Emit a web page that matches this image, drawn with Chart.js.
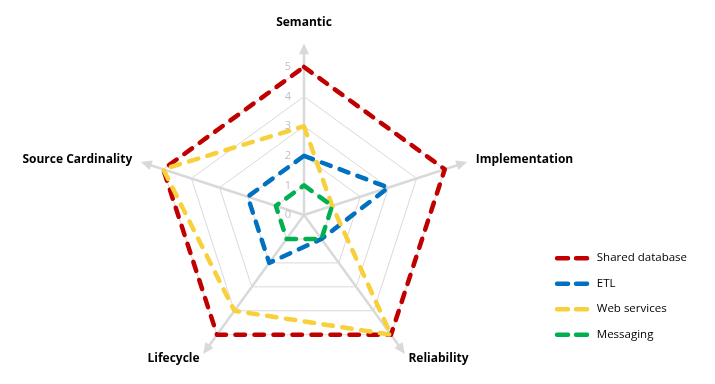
<!DOCTYPE html>
<html>
<head>
<meta charset="utf-8">
<script src="https://cdn.jsdelivr.net/npm/chart.js@4"></script>
<style>
  html, body { margin: 0; padding: 0; background: #fff; }
  #wrap { width: 715px; height: 384px; }
</style>
</head>
<body>
<div id="wrap"><canvas id="radar" width="715" height="384"></canvas></div>
<script>
// Chart data
const axes = ['Semantic', 'Implementation', 'Reliability', 'Lifecycle', 'Source Cardinality'];
const seriesNames = ['Shared database', 'ETL', 'Web services', 'Messaging'];
const sharedDatabase = [5, 5, 5, 5, 5];
const etl = [2, 3, 1, 2, 2];
const webServices = [3, 1, 5, 4, 5];
const messaging = [1, 1, 1, 1, 1];
const tickValues = [0, 1, 2, 3, 4, 5];

const seriesColors = ['#c00000', '#0070c0', '#f7d03c', '#00b050'];
const FONT = '"Open Sans", "Noto Sans", sans-serif';

// Axis arrows, tick numbers and axis titles
const axisDecor = {
    id: 'axisDecor',
    beforeDatasetsDraw(chart) {
        const scale = chart.scales.r;
        const ctx = chart.ctx;
        const outer = scale.getDistanceFromCenterForValue(scale.max);

        ctx.save();
        ctx.strokeStyle = '#d9d9d9';
        ctx.fillStyle = '#d9d9d9';
        ctx.lineWidth = 2.5;
        axes.forEach((_, i) => {
            const a = scale.getIndexAngle(i) - Math.PI / 2;
            const end = scale.getPointPosition(i, outer * 1.1);
            const tip = scale.getPointPosition(i, outer * 1.16);
            ctx.beginPath();
            ctx.moveTo(scale.xCenter, scale.yCenter);
            ctx.lineTo(end.x, end.y);
            ctx.stroke();
            const bx = tip.x - Math.cos(a) * 11;
            const by = tip.y - Math.sin(a) * 11;
            ctx.beginPath();
            ctx.moveTo(tip.x, tip.y);
            ctx.lineTo(bx - Math.sin(a) * 5, by + Math.cos(a) * 5);
            ctx.lineTo(bx + Math.sin(a) * 5, by - Math.cos(a) * 5);
            ctx.closePath();
            ctx.fill();
        });

        ctx.font = '11px ' + FONT;
        ctx.fillStyle = '#bfbfbf';
        ctx.textAlign = 'center';
        ctx.textBaseline = 'middle';
        tickValues.forEach(v => {
            const d = scale.getDistanceFromCenterForValue(v);
            ctx.fillText(String(v), scale.xCenter - 16, scale.yCenter - d);
        });

        // axis titles
        const place = [
            { k: 1.30, align: 'center' },
            { k: 1.22, align: 'left' },
            { k: 1.20, align: 'left' },
            { k: 1.20, align: 'right' },
            { k: 1.22, align: 'right' }
        ];
        ctx.font = 'bold 12px ' + FONT;
        ctx.fillStyle = '#000';
        axes.forEach((label, i) => {
            const p = scale.getPointPosition(i, outer * place[i].k);
            ctx.textAlign = place[i].align;
            ctx.fillText(label, p.x, p.y);
        });
        ctx.restore();
    }
};

function makeDataset(label, data, color, order) {
    return {
        label: label,
        data: data,
        borderColor: color,
        backgroundColor: color,
        borderWidth: 4.5,
        borderDash: [9.5, 9.5],
        borderCapStyle: 'round',
        borderJoinStyle: 'round',
        fill: false,
        tension: 0,
        pointRadius: 0,
        pointHoverRadius: 0,
        order: order
    };
}

const ctx = document.getElementById('radar').getContext('2d');
new Chart(ctx, {
    type: 'radar',
    data: {
        labels: axes,
        datasets: [
            makeDataset(seriesNames[0], sharedDatabase, seriesColors[0], 4),
            makeDataset(seriesNames[1], etl, seriesColors[1], 3),
            makeDataset(seriesNames[2], webServices, seriesColors[2], 2),
            makeDataset(seriesNames[3], messaging, seriesColors[3], 1)
        ]
    },
    options: {
        responsive: false,
        animation: false,
        devicePixelRatio: 1,
        layout: { padding: { left: 65, right: 18, top: 67, bottom: 21 } },
        scales: {
            r: {
                min: 0,
                max: 5,
                ticks: { display: false, stepSize: 1 },
                grid: { color: '#d9d9d9', lineWidth: 1 },
                angleLines: { display: false },
                pointLabels: { display: false }
            }
        },
        plugins: {
            tooltip: { enabled: false },
            legend: {
                position: 'right',
                align: 'start',
                title: { display: true, text: '', padding: { top: 157, bottom: 0 }, font: { size: 12 } },
                labels: {
                    usePointStyle: true,
                    pointStyleWidth: 34,
                    padding: 14,
                    color: '#000',
                    font: { family: FONT, size: 11.5 },
                    generateLabels(chart) {
                        return chart.data.datasets.map((ds, i) => ({
                            text: ds.label,
                            fillStyle: ds.borderColor,
                            strokeStyle: ds.borderColor,
                            lineWidth: ds.borderWidth,
                            lineDash: [11, 8],
                            lineCap: 'round',
                            pointStyle: 'line',
                            hidden: false,
                            fontColor: '#000',
                            datasetIndex: i
                        }));
                    }
                }
            }
        }
    },
    plugins: [axisDecor]
});
</script>
</body>
</html>
